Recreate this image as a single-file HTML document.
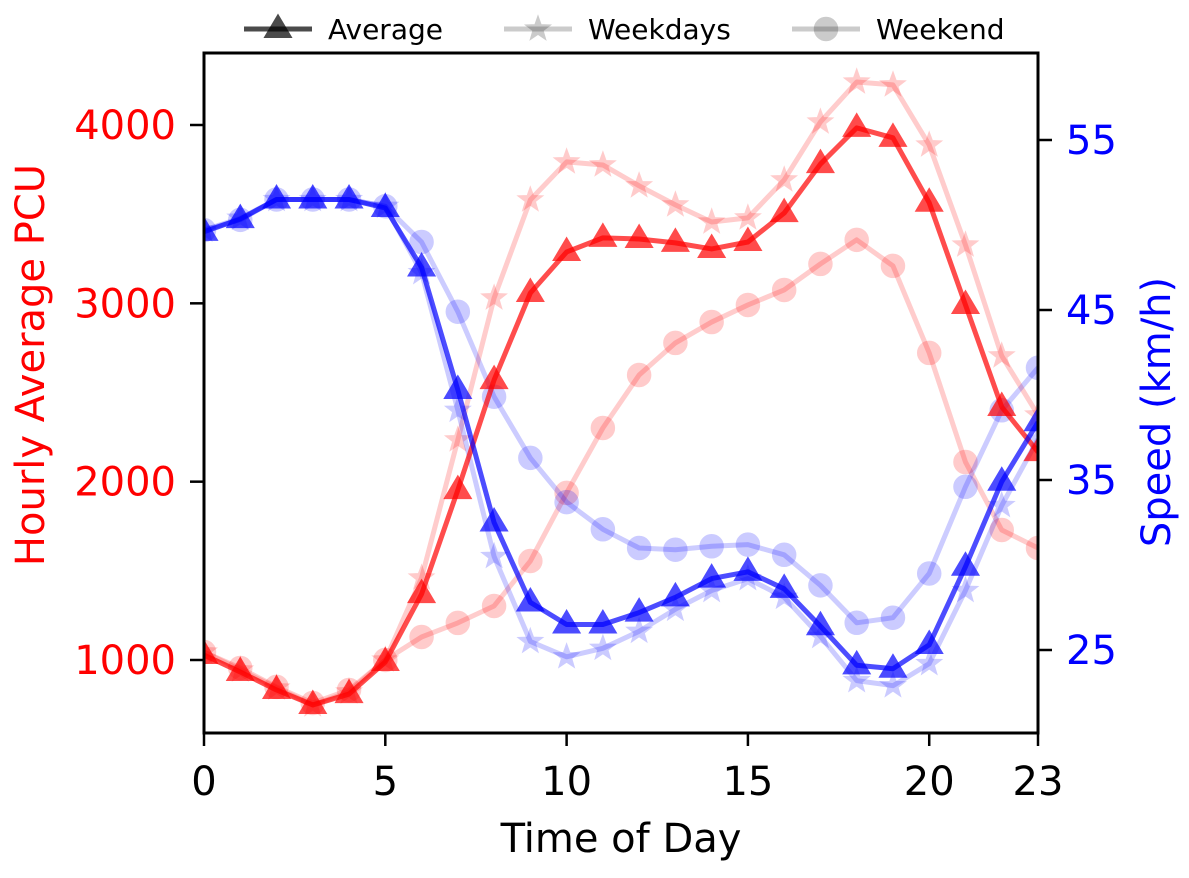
<!DOCTYPE html>
<html><head><meta charset="utf-8"><style>
body{margin:0;background:#fff}
svg{font-family:"DejaVu Sans","Liberation Sans",sans-serif}
</style></head><body>
<svg id="chart" width="1189" height="873" viewBox="0 0 1189 873" xmlns="http://www.w3.org/2000/svg">
<defs><clipPath id="clip"><rect x="204" y="53" width="834" height="680"/></clipPath></defs>
<g id="plot" clip-path="url(#clip)"></g>
<rect x="204" y="53" width="834" height="680" fill="none" stroke="#000" stroke-width="3"/>
<g id="axes"></g>
<text x="621" y="852" text-anchor="middle" font-size="40">Time of Day</text>
<text transform="translate(44,365) rotate(-90)" text-anchor="middle" font-size="40" fill="#ff0000">Hourly Average PCU</text>
<text transform="translate(1170,412) rotate(-90)" text-anchor="middle" font-size="40" fill="#0000ff">Speed (km/h)</text>
<g id="legend"></g>
</svg>
<script>
const hours=[0,1,2,3,4,5,6,7,8,9,10,11,12,13,14,15,16,17,18,19,20,21,22,23];
const pcuAverage=[1028,933,832,748,809,989,1370,1953,2570,3058,3288,3367,3361,3339,3305,3344,3506,3781,3984,3928,3564,2991,2419,2166];
const pcuWeekdays=[1045,944,843,748,821,1000,1460,2234,3030,3580,3793,3776,3659,3552,3456,3479,3692,4017,4241,4225,3888,3327,2705,2374];
const pcuWeekend=[1045,955,849,759,832,1000,1129,1208,1303,1555,1937,2301,2598,2778,2895,2991,3075,3221,3356,3210,2722,2110,1729,1628];
const speedAverage=[49.6,50.35,51.5,51.5,51.5,51.0,47.5,40.3,32.5,27.8,26.5,26.5,27.2,28.1,29.2,29.6,28.6,26.4,24.1,23.9,25.3,29.9,34.9,38.4];
const speedWeekdays=[49.7,50.4,51.5,51.5,51.5,51.1,47.2,39.1,30.5,25.5,24.6,25.1,26.1,27.4,28.5,29.2,28.1,25.8,23.2,22.9,24.2,28.5,33.5,37.4];
const speedWeekend=[49.7,50.3,51.5,51.5,51.5,51.1,49.0,44.9,39.9,36.3,33.7,32.1,31.0,30.9,31.1,31.2,30.6,28.8,26.6,26.9,29.5,34.6,39.1,41.6];
const xTicks=[0,5,10,15,20,23];
const leftTicks=[1000,2000,3000,4000];
const rightTicks=[25,35,45,55];
const NS="http://www.w3.org/2000/svg";
const X=h=>204+h*(834/23);
const YL=v=>660-(v-1000)*(535/3000);
const YR=v=>650-(v-25)*17;
function mk(t,a,p){const e=document.createElementNS(NS,t);for(const k in a)e.setAttribute(k,a[k]);p.appendChild(e);return e;}
const plot=document.getElementById('plot'),axes=document.getElementById('axes'),leg=document.getElementById('legend');
function marker(kind,cx,cy,color,op,p){
  let e;
  if(kind==='tri'){const r=13;e=mk('polygon',{points:`${cx},${cy-r} ${cx+r*0.95},${cy+r*0.6} ${cx-r*0.95},${cy+r*0.6}`},p);}
  else if(kind==='star'){let pts=[];for(let i=0;i<10;i++){const r=i%2?4.5:11,a=-Math.PI/2+i*Math.PI/5;pts.push((cx+r*Math.cos(a)).toFixed(1)+','+(cy+r*Math.sin(a)).toFixed(1));}e=mk('polygon',{points:pts.join(' ')},p);}
  else e=mk('circle',{cx:cx,cy:cy,r:11},p);
  e.setAttribute('fill',color);e.setAttribute('stroke',color);e.setAttribute('stroke-width','2.5');e.setAttribute('opacity',op);
  return e;
}
function series(vals,yf,color,op,kind,name){
  const g=mk('g',{},plot);
  
  
  const l=mk('polyline',{points:vals.map((v,i)=>X(hours[i])+','+yf(v)).join(' '),fill:'none',stroke:color,'stroke-width':5,opacity:op,'stroke-linejoin':'round'},g);
  
  
  vals.forEach((v,i)=>{const m=marker(kind,X(hours[i]),yf(v),color,op,g);
    
    });
}
series(pcuWeekdays,YL,'#ff0000',0.2,'star','pcu-weekdays');
series(pcuWeekend,YL,'#ff0000',0.2,'circle','pcu-weekend');
series(speedWeekdays,YR,'#0000ff',0.2,'star','speed-weekdays');
series(speedWeekend,YR,'#0000ff',0.2,'circle','speed-weekend');
series(pcuAverage,YL,'#ff0000',0.7,'tri','pcu-average');
series(speedAverage,YR,'#0000ff',0.7,'tri','speed-average');
xTicks.forEach(t=>{mk('line',{x1:X(t),x2:X(t),y1:733,y2:746,stroke:'#000','stroke-width':2.5},axes);
  const tx=mk('text',{x:X(t),y:795,'text-anchor':'middle','font-size':40},axes);tx.textContent=t;
  });
leftTicks.forEach(t=>{mk('line',{x1:190,x2:204,y1:YL(t),y2:YL(t),stroke:'#000','stroke-width':2.5},axes);
  const tx=mk('text',{x:176,y:YL(t)+14,'text-anchor':'end','font-size':40,fill:'#ff0000'},axes);tx.textContent=t;
  });
rightTicks.forEach(t=>{mk('line',{x1:1038,x2:1052,y1:YR(t),y2:YR(t),stroke:'#000','stroke-width':2.5},axes);
  const tx=mk('text',{x:1066,y:YR(t)+14,'text-anchor':'start','font-size':40,fill:'#0000ff'},axes);tx.textContent=t;
  });
[['Average','tri',0.7,244],['Weekdays','star',0.2,504],['Weekend','circle',0.2,792]].forEach(([lab,k,op,x0])=>{
  const g=mk('g',{},leg);
  
  
  mk('line',{x1:x0,x2:x0+68,y1:29,y2:29,stroke:'#000','stroke-width':5,opacity:op},g);
  marker(k,x0+34,29,'#000',op,g);
  const t=mk('text',{x:x0+84,y:39,'font-size':28},g);t.textContent=lab;
});
</script>
</body></html>
